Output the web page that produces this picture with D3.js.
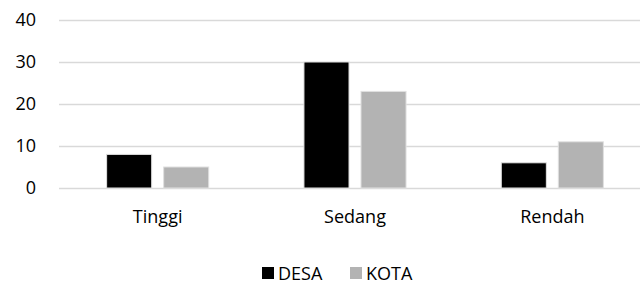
<!DOCTYPE html>
<html>
<head>
<meta charset="utf-8">
<script src="https://cdn.jsdelivr.net/npm/d3@7"></script>
<style>
  body { margin: 0; background: #fff; }
  text { font-family: "Open Sans", sans-serif; fill: #000; }
</style>
</head>
<body>
<svg></svg>
<script>
var width = 640;
var height = 286;

var categories = ["Tinggi", "Sedang", "Rendah"];
var seriesNames = ["DESA", "KOTA"];
var desa = [8, 30, 6];
var kota = [5, 23, 11];
var yTicks = [0, 10, 20, 30, 40];
var color = ["#000000", "#b3b3b3"];

const svg = d3.select('svg')
    .attr('width', width)
    .attr('height', height);

var rows = categories.map((c, i) => ({ cat: c, values: [desa[i], kota[i]] }));

const x = d3.scaleBand()
    .domain(categories)
    .range([59, 651])
    .paddingInner(0)
    .paddingOuter(0);

const x1 = d3.scaleBand()
    .domain(seriesNames)
    .range([0, x.bandwidth()])
    .paddingInner(0.21)
    .paddingOuter(0.835);

const y = d3.scaleLinear()
    .domain([0, 40])
    .range([188, 20]);

// gridlines
svg.append("g")
    .selectAll("line")
    .data(yTicks)
    .join("line")
    .attr("x1", 59)
    .attr("x2", width)
    .attr("y1", d => y(d) + 0.5)
    .attr("y2", d => y(d) + 0.5)
    .attr("stroke", "#d9d9d9")
    .attr("stroke-width", 1.3);

// y axis labels
const yAxis = d3.axisLeft(y).tickValues(yTicks).tickSize(0).tickPadding(0);
svg.append("g")
    .attr("transform", "translate(36,0)")
    .call(yAxis)
    .call(g => g.select(".domain").remove())
    .selectAll("text")
    .style("font-size", "18px")
    .style("font-family", "'Open Sans', sans-serif")
    .attr("fill", "#000");

// bars
svg.append("g")
    .selectAll("g")
    .data(rows)
    .join("g")
    .attr("transform", d => `translate(${x(d.cat)},0)`)
    .selectAll("rect")
    .data(d => d.values.map((v, i) => ({ name: seriesNames[i], v: v, i: i })))
    .join("rect")
    .attr("x", d => x1(d.name))
    .attr("width", x1.bandwidth())
    .attr("y", d => y(d.v))
    .attr("height", d => y(0) - y(d.v))
    .attr("fill", d => color[d.i])
    .attr("stroke", "#e0e0e0")
    .attr("stroke-width", 1);

// x axis labels
const xAxis = d3.axisBottom(x).tickSize(0).tickPadding(0);
svg.append("g")
    .attr("transform", "translate(0,210)")
    .call(xAxis)
    .call(g => g.select(".domain").remove())
    .selectAll("text")
    .style("font-size", "18px")
    .style("font-family", "'Open Sans', sans-serif")
    .attr("fill", "#000");

// legend
var legendX = [262, 350];
const legend = svg.append("g")
    .selectAll("g")
    .data(seriesNames)
    .join("g")
    .attr("transform", (d, i) => `translate(${legendX[i]},267)`);
legend.append("rect")
    .attr("width", 12)
    .attr("height", 12)
    .attr("fill", (d, i) => color[i]);
legend.append("text")
    .attr("x", 16)
    .attr("y", 13)
    .style("font-size", "18px")
    .text(d => d);
</script>
</body>
</html>
